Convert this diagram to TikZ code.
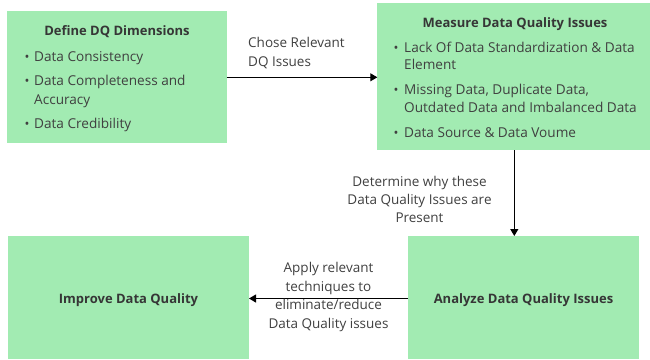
\documentclass[tikz,border=0pt]{standalone}
\usepackage{fontspec}
\setmainfont{Open Sans}
\usetikzlibrary{arrows.meta}
\definecolor{boxfill}{HTML}{A2EBB2}
\definecolor{txt}{HTML}{404040}
\begin{document}
\begin{tikzpicture}[x=1pt,y=-1pt,
  box/.style={fill=boxfill,draw=none},
  line/.style={anchor=base west,inner sep=0pt,text=txt,font=\fontsize{13.6}{16}\selectfont},
  title/.style={anchor=base,inner sep=0pt,text=txt!85!black,font=\fontsize{13}{16}\selectfont\bfseries},
  dot/.style={anchor=base,inner sep=0pt,text=txt,font=\fontsize{13}{16}\selectfont},
  flow/.style={draw=black,line width=1.1pt,-{Triangle[length=7pt,width=8pt]}},
  lab/.style={anchor=base,inner sep=0pt,text=txt,font=\fontsize{13.5}{16}\selectfont}]
\useasboundingbox (0,0) rectangle (650,359);

% process boxes
\path[box] (7,11) rectangle (226.5,143.3);
\path[box] (377.3,3.3) rectangle (650,150);
\path[box] (7.5,236) rectangle (249,359);
\path[box] (408,236) rectangle (639.3,359);

% named anchors on the box edges
\coordinate (defR) at (226.5,77.3);
\coordinate (measL) at (377.3,77.3);
\coordinate (measB) at (514.3,150);
\coordinate (anaT) at (514.3,236);
\coordinate (anaL) at (408,298.5);
\coordinate (impR) at (249,298.5);

% Define DQ Dimensions
\node[title] (t1) at (117,35.5) {Define DQ Dimensions};
\node[dot] (b11) at (27,61) {•};
\node[line] (l11) at (34,61) {Data Consistency};
\node[dot] (b12) at (27,85.5) {•};
\node[line] (l12) at (34,85.5) {Data Completeness and};
\node[line] (l13) at (34,104) {Accuracy};
\node[dot] (b13) at (27,128.5) {•};
\node[line] (l14) at (34,128.5) {Data Credibility};

% Measure Data Quality Issues
\node[title] (t2) at (515,27) {Measure Data Quality Issues};
\node[dot] (b21) at (396,52) {•};
\node[line] (l21) at (404,52) {Lack Of Data Standardization \& Data};
\node[line] (l22) at (404,69.5) {Element};
\node[dot] (b22) at (396,94.5) {•};
\node[line] (l23) at (404,94.5) {Missing Data, Duplicate Data,};
\node[line] (l24) at (404,112.8) {Outdated Data and Imbalanced Data};
\node[dot] (b23) at (396,137) {•};
\node[line] (l25) at (404,137) {Data Source \& Data Voume};

% Improve / Analyze
\node[title] (t3) at (128.5,303) {Improve Data Quality};
\node[title] (t4) at (523.5,303) {Analyze Data Quality Issues};

% connectors
\draw[flow] (defR) -- (measL);
\draw[flow] (measB) -- (anaT);
\draw[flow] (anaL) -- (impR);

% connector labels
\node[line,font=\fontsize{13.5}{16}\selectfont] (c1a) at (248,47.6) {Chose Relevant};
\node[line,font=\fontsize{13.5}{16}\selectfont] (c1b) at (248,66) {DQ Issues};

\node[lab] (c2a) at (419.5,186) {Determine why these};
\node[lab] (c2b) at (419.5,204.5) {Data Quality Issues are};
\node[lab] (c2c) at (419.5,222.6) {Present};

\node[lab] (c3a) at (328.5,272.6) {Apply relevant};
\node[lab] (c3b) at (328.5,291) {techniques to};
\node[lab] (c3c) at (328.5,309.3) {eliminate/reduce};
\node[lab] (c3d) at (328.5,328.6) {Data Quality issues};
\end{tikzpicture}
\end{document}
